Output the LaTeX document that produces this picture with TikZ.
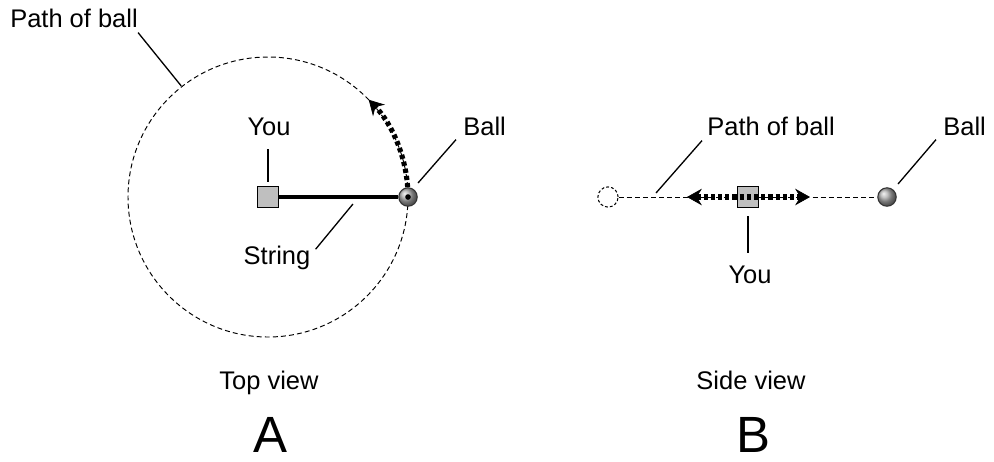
\documentclass[tikz,border=0pt]{standalone}
\usepackage{fontspec}
\setmainfont{Liberation Sans}
\usetikzlibrary{arrows.meta, positioning, calc}

\begin{document}
\begin{tikzpicture}[x=0.02cm, y=-0.02cm,
  lbl/.style={font=\fontsize{14.5}{17}\selectfont, inner sep=0pt, anchor=base},
  bigletter/.style={font=\fontsize{29}{33}\selectfont, inner sep=0pt, anchor=base},
  youbox/.style={draw, fill=gray!50, minimum size=12pt, inner sep=0pt, line width=0.6pt},
  ballnode/.style={circle, draw=black!80, line width=0.6pt, shading=ball, ball color=gray!65, minimum size=10.5pt, inner sep=0pt},
  ghost/.style={circle, draw, dash pattern=on 1.6pt off 1.2pt, line width=0.6pt, minimum size=11.5pt, inner sep=0pt},
  leader/.style={line width=0.75pt},
  pathline/.style={line width=0.55pt, dash pattern=on 2.8pt off 1.8pt},
  motion/.style={line width=2.9pt, dash pattern=on 2.4pt off 1.7pt},
  tip/.tip={Stealth[length=8.5pt, width=9.5pt, inset=3pt, line width=0.4pt]}
]
  \useasboundingbox (0,0) rectangle (994,461);

  % A: top view
  \coordinate (centerA) at (268,197);
  \draw[pathline] (centerA) circle[radius=140];
  \node[youbox] (youA) at (268,197) {};
  \draw[motion, -tip] ($(centerA)+(-4:140)$) arc[start angle=-4, end angle=-44, radius=140];
  \node[ballnode] (ballA) at (408,197) {};
  \draw[line width=1.8pt] (youA.east) -- (ballA.west);
  \fill (ballA.center) circle[radius=1.6pt];

  \node[lbl] (pathA label) at (74,27) {Path of ball};
  \draw[leader] ($(pathA label.south east)+(0,5)$) -- ($(centerA)+(-128:141)$);
  \node[lbl] (youA label) at (269,135) {You};
  \draw[leader] ($(youA.north)+(0,-4)$) -- ($(youA.north)+(0,-37)$);
  \node[lbl] (string label) at (277,264) {String};
  \draw[leader] ($(string label.north east)+(5,4)$) -- ($(youA.east)!0.62!(ballA.west)+(0,7)$);
  \node[lbl, anchor=base west] (ballA label) at (463,135) {Ball};
  \draw[leader] ($(ballA label.south west)+(-7,4)$) -- ($(ballA)+(10,-14)$);

  % B: side view
  \node[ghost] (ghostB) at (608,197) {};
  \node[ballnode] (ballB) at (887,197) {};
  \draw[pathline] (ghostB) -- (ballB);
  \node[youbox] (youB) at (748,197) {};
  \coordinate (leftB tip) at ($(youB)+(-61,0)$);
  \coordinate (rightB tip) at ($(youB)+(62,0)$);
  \draw[motion, tip-tip] (leftB tip) -- (rightB tip);

  \node[lbl, anchor=base west] (pathB label) at (707,135) {Path of ball};
  \draw[leader] ($(pathB label.south west)+(-5,5)$) -- ($(ghostB)+(48,-4)$);
  \node[lbl, anchor=base west] (ballB label) at (943,135) {Ball};
  \draw[leader] ($(ballB label.south west)+(-7,4)$) -- ($(ballB)+(11,-13)$);
  \node[lbl] (youB label) at (750,283) {You};
  \draw[leader] ($(youB.south)+(0,8)$) -- ($(youB.south)+(0,45)$);

  \node[lbl] (topview) at (269,389) {Top view};
  \node[lbl] (sideview) at (751,389) {Side view};
  \node[bigletter] (letterA) at (270,452) {A};
  \node[bigletter] (letterB) at (753,452) {B};
\end{tikzpicture}
\end{document}
